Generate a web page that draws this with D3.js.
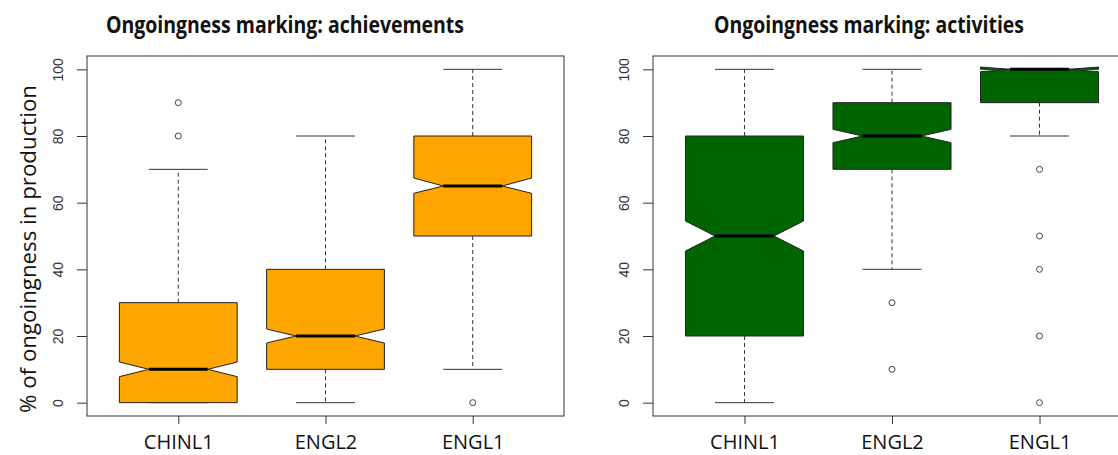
<!DOCTYPE html>
<html>
<head>
<meta charset="utf-8">
<script src="https://cdn.jsdelivr.net/npm/d3@7"></script>
<style>
  body { margin: 0; background: #fff; }
  svg { display: block; }
</style>
</head>
<body>
<svg id="chart" width="1118" height="455"></svg>
<script>
(() => {
// groups on the x axis
const groups = ["CHINL1", "ENGL2", "ENGL1"];
const yTicks = [0, 20, 40, 60, 80, 100];

// achievements (left panel)
const achLow = [0, 0, 10];
const achQ1 = [0, 10, 50];
const achMedian = [10, 20, 65];
const achQ3 = [30, 40, 80];
const achHigh = [70, 80, 100];
const achNotchLo = [7.8, 17.9, 62.8];
const achNotchHi = [12.2, 22.1, 67.4];
const achOutliers = [[80, 90], [], [0]];

// activities (right panel)
const actLow = [0, 40, 80];
const actQ1 = [20, 70, 90];
const actMedian = [50, 80, 100];
const actQ3 = [80, 90, 100];
const actHigh = [100, 100, 100];
const actNotchLo = [45.5, 78, 99.3];
const actNotchHi = [54.5, 82, 100.7];
const actOutliers = [[], [30, 10], [70, 50, 40, 20, 0]];

const svg = d3.select("#chart");

const panels = [
  {title: "Ongoingness marking: achievements", titleX: 285, titleW: 358,
   x0: 87, x1: 564, y0: 56, y1: 416, fill: "#FFA500",
   low: achLow, q1: achQ1, med: achMedian, q3: achQ3, high: achHigh,
   nlo: achNotchLo, nhi: achNotchHi, out: achOutliers},
  {title: "Ongoingness marking: activities", titleX: 869, titleW: 310,
   x0: 653, x1: 1131, y0: 56, y1: 416, fill: "#006400",
   low: actLow, q1: actQ1, med: actMedian, q3: actQ3, high: actHigh,
   nlo: actNotchLo, nhi: actNotchHi, out: actOutliers}
];

// y label (only on the left)
svg.append("text")
  .attr("transform", "translate(27,249) rotate(-90)")
  .attr("text-anchor", "middle")
  .attr("dominant-baseline", "central")
  .attr("textLength", 328)
  .attr("lengthAdjust", "spacingAndGlyphs")
  .style("font-family", "Open Sans")
  .style("font-size", "22px")
  .style("fill", "#111")
  .text("% of ongoingness in production");

panels.forEach(p => {
  const x = d3.scaleLinear().domain([0.38, 3.62]).range([p.x0, p.x1]);
  const y = d3.scaleLinear().domain([-4, 104]).range([p.y1, p.y0]);
  const g = svg.append("g");
  const wd = 0.4;

  // title
  g.append("text")
    .attr("x", p.titleX)
    .attr("y", 33)
    .attr("text-anchor", "middle")
    .attr("textLength", p.titleW)
    .attr("lengthAdjust", "spacingAndGlyphs")
    .style("font-family", "Open Sans")
    .style("font-weight", "700")
    .style("font-size", "24px")
    .style("fill", "#111")
    .text(p.title);

  // boxes
  groups.forEach((name, i) => {
    const c = i + 1;
    // whiskers
    [[p.q3[i], p.high[i]], [p.q1[i], p.low[i]]].forEach(([a, b]) => {
      g.append("line")
        .attr("x1", x(c)).attr("x2", x(c))
        .attr("y1", y(a)).attr("y2", y(b))
        .attr("stroke", "#333")
        .attr("stroke-dasharray", "4,3");
      g.append("line")
        .attr("x1", x(c - wd / 2)).attr("x2", x(c + wd / 2))
        .attr("y1", y(b)).attr("y2", y(b))
        .attr("stroke", "#333");
    });

    // notched box
    const xs = [-1, 1, 1, 0.5, 1, 1, -1, -1, -0.5, -1];
    const ys = [p.q1[i], p.q1[i], p.nlo[i], p.med[i], p.nhi[i], p.q3[i], p.q3[i], p.nhi[i], p.med[i], p.nlo[i]];
    const pts = xs.map((v, k) => [x(c + wd * v), y(ys[k])]);
    g.append("path")
      .attr("d", d3.line()(pts) + "Z")
      .attr("fill", p.fill)
      .attr("stroke", "#222")
      .attr("stroke-width", 1);

    // median
    g.append("line")
      .attr("x1", x(c - wd / 2)).attr("x2", x(c + wd / 2))
      .attr("y1", y(p.med[i])).attr("y2", y(p.med[i]))
      .attr("stroke", "#000")
      .attr("stroke-width", 3);

    // outliers
    g.selectAll(null)
      .data(p.out[i])
      .enter()
      .append("circle")
      .attr("cx", x(c))
      .attr("cy", d => y(d))
      .attr("r", 3)
      .attr("fill", "#fff")
      .attr("stroke", "#444");
  });

  // frame
  g.append("rect")
    .attr("x", p.x0).attr("y", p.y0)
    .attr("width", p.x1 - p.x0).attr("height", p.y1 - p.y0)
    .attr("fill", "none")
    .attr("stroke", "#333");

  // y axis
  const ay = g.append("g")
    .attr("transform", `translate(${p.x0},0)`)
    .call(d3.axisLeft(y).tickValues(yTicks).tickSize(10).tickFormat(d3.format("d")));
  ay.select(".domain").remove();
  ay.selectAll(".tick line").attr("stroke", "#333");
  ay.selectAll(".tick text")
    .attr("x", 0).attr("dy", null)
    .attr("transform", "translate(-29,0) rotate(-90)")
    .attr("text-anchor", "middle")
    .attr("dominant-baseline", "central")
    .style("font-family", "Liberation Sans")
    .style("font-size", "14px")
    .style("fill", "#333");

  // x axis
  const ax = g.append("g")
    .attr("transform", `translate(0,${p.y1})`)
    .call(d3.axisBottom(x).tickValues([1, 2, 3]).tickSize(8).tickFormat(d => groups[d - 1]));
  ax.select(".domain").remove();
  ax.selectAll(".tick line").attr("stroke", "#333");
  ax.selectAll(".tick text")
    .attr("y", 33).attr("dy", null)
    .style("font-family", "Open Sans")
    .style("font-size", "20px")
    .style("fill", "#111");
});
})();
</script>
</body>
</html>
